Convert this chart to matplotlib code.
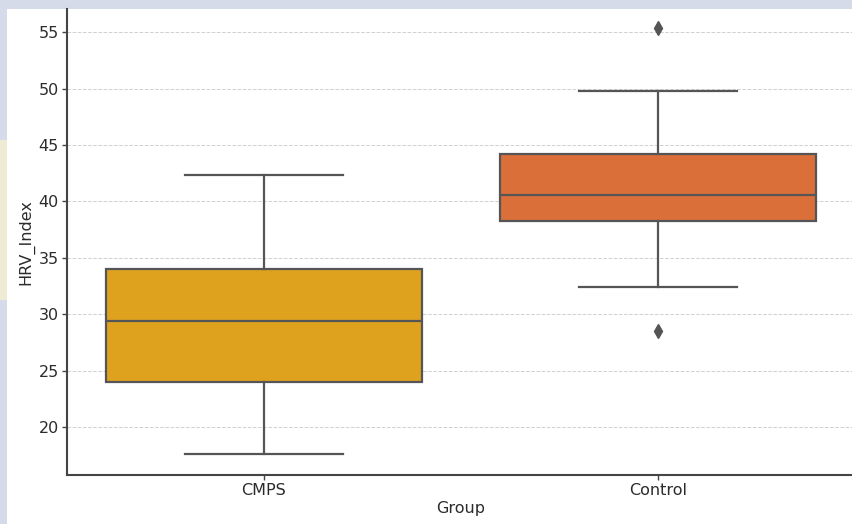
import matplotlib
matplotlib.use("Agg")
import matplotlib.pyplot as plt
from matplotlib.patches import Rectangle

# ---- data ----
groups = ["CMPS", "Control"]
whisker_low = [17.6, 32.4]
q1 = [24.0, 38.3]
median = [29.4, 40.6]
q3 = [34.0, 44.2]
whisker_high = [42.3, 49.8]
outliers = [[], [55.4, 28.5]]
box_colors = ["#dea21f", "#db6f3a"]

W, H = 853, 524
fig = plt.figure(figsize=(W / 100, H / 100), dpi=100, facecolor="#d6dbe9")
# white screenshot area
fig.patches.append(Rectangle((7 / W, 0), 1, 1 - 9 / H, transform=fig.transFigure,
                             facecolor="white", edgecolor="none", zorder=-10))
# faint yellowish smear on the left strip
fig.patches.append(Rectangle((0, 1 - 300 / H), 7 / W, 160 / H, transform=fig.transFigure,
                             facecolor="#f3f0cf", edgecolor="none", zorder=-10, alpha=0.8))

ax = fig.add_axes([67 / W, (H - 475) / H, 788 / W, (475 - 9) / H])
ax.set_facecolor("none")
ax.set_zorder(5)

stats = []
for i, g in enumerate(groups):
    stats.append(dict(label=g, whislo=whisker_low[i], q1=q1[i], med=median[i],
                      q3=q3[i], whishi=whisker_high[i], fliers=outliers[i]))

line_c = "#555555"
bp = ax.bxp(stats, positions=range(len(groups)), widths=0.8, patch_artist=True,
            boxprops=dict(edgecolor=line_c, linewidth=1.6),
            medianprops=dict(color=line_c, linewidth=1.6),
            whiskerprops=dict(color=line_c, linewidth=1.6),
            capprops=dict(color=line_c, linewidth=1.6),
            flierprops=dict(marker="d", markerfacecolor=line_c, markeredgecolor=line_c,
                            markersize=7, linestyle="none"),
            capwidths=0.4)
for patch, c in zip(bp["boxes"], box_colors):
    patch.set_facecolor(c)

ax.set_xlim(-0.5, 1.5)
ax.set_ylim(15.75, 57.05)
ax.set_yticks([20, 25, 30, 35, 40, 45, 50, 55])
ax.set_xticks(range(len(groups)))
ax.set_xticklabels(groups)
ax.yaxis.grid(True, linestyle="--", color="#d0d0d0", linewidth=0.7)
ax.set_axisbelow(True)

for s in ["top", "right"]:
    ax.spines[s].set_visible(False)
for s in ["left", "bottom"]:
    ax.spines[s].set_color("#444444")
    ax.spines[s].set_linewidth(1.5)

ax.tick_params(axis="both", colors="#444444", labelcolor="#2b2b2b", labelsize=11.5,
               length=3.5, width=1, pad=2.5)
ax.set_xlabel("Group", fontsize=11.5, color="#2b2b2b", labelpad=2)
ax.set_ylabel("HRV_Index", fontsize=11.5, color="#2b2b2b", labelpad=3)

fig.savefig("out.png", dpi=100, facecolor=fig.get_facecolor())
